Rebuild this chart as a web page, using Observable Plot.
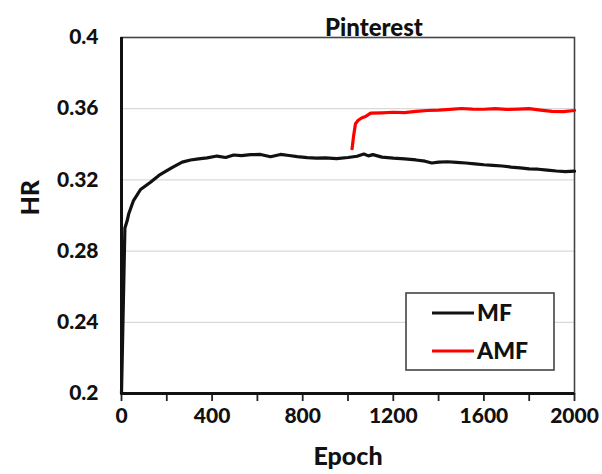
<!DOCTYPE html>
<html>
<head>
<meta charset="utf-8">
<script src="https://cdn.jsdelivr.net/npm/d3@7"></script>
<script src="https://cdn.jsdelivr.net/npm/@observablehq/plot@0.6"></script>
<style>
  html, body { margin: 0; padding: 0; background: #fff; }
  #wrap { position: relative; width: 602px; height: 474px; font-family: Lato, "Open Sans", sans-serif; }
  #legend { position: absolute; left: 405px; top: 292px; }
</style>
</head>
<body>
<div id="wrap"></div>
<script>
const title = "Pinterest";
const xLabel = "Epoch";
const yLabel = "HR";
const seriesNames = ["MF", "AMF"];
const seriesColors = ["#111111", "#ff0000"];

const yTicks = [0.2, 0.24, 0.28, 0.32, 0.36, 0.4];
const yGrid = [0.24, 0.28, 0.32, 0.36];
const xTicks = [0, 200, 400, 600, 800, 1000, 1200, 1400, 1600, 1800, 2000];
const xTickLabels = ["0", "", "400", "", "800", "", "1200", "", "1600", "", "2000"];

const mfEpoch = [0, 15, 25, 32, 53, 84, 128, 165, 202, 231, 268, 305, 340, 378, 422, 460, 495, 530, 570, 614, 658, 702, 740, 776, 820, 860, 900, 950, 1000, 1040, 1070, 1090, 1110, 1150, 1200, 1250, 1300, 1340, 1370, 1400, 1440, 1480, 1520, 1560, 1600, 1640, 1680, 1720, 1760, 1800, 1840, 1880, 1920, 1960, 2000];
const mfHR = [0.200, 0.293, 0.297, 0.301, 0.3084, 0.3146, 0.3187, 0.3225, 0.3253, 0.3275, 0.3300, 0.3312, 0.3318, 0.3324, 0.3334, 0.3326, 0.3340, 0.3336, 0.3342, 0.3343, 0.3330, 0.3343, 0.3337, 0.3331, 0.3325, 0.3322, 0.3324, 0.3320, 0.3326, 0.3333, 0.3345, 0.3335, 0.3342, 0.3328, 0.3322, 0.3318, 0.3312, 0.3305, 0.3295, 0.3300, 0.3302, 0.3298, 0.3295, 0.3290, 0.3285, 0.3282, 0.3278, 0.3272, 0.3268, 0.3262, 0.3260, 0.3255, 0.3250, 0.3247, 0.3249];

const amfEpoch = [1018, 1025, 1033, 1045, 1060, 1080, 1100, 1150, 1200, 1250, 1300, 1350, 1400, 1450, 1500, 1550, 1600, 1650, 1700, 1750, 1800, 1850, 1900, 1950, 2000];
const amfHR = [0.3375, 0.3450, 0.3515, 0.3535, 0.3548, 0.3558, 0.3575, 0.3577, 0.3580, 0.3578, 0.3585, 0.3590, 0.3592, 0.3596, 0.3601, 0.3598, 0.3597, 0.3600, 0.3596, 0.3598, 0.3600, 0.3592, 0.3585, 0.3584, 0.3590];

const data = [
  ...mfEpoch.map((e, i) => ({epoch: e, hr: mfHR[i], series: seriesNames[0]})),
  ...amfEpoch.map((e, i) => ({epoch: e, hr: amfHR[i], series: seriesNames[1]}))
];

const chart = Plot.plot({
  width: 602,
  height: 474,
  marginLeft: 121,
  marginRight: 28,
  marginTop: 37,
  marginBottom: 81,
  style: {fontFamily: "Lato, 'Open Sans', sans-serif", background: "#fff", color: "#111"},
  x: {domain: [0, 2000]},
  y: {domain: [0.2, 0.4]},
  color: {domain: seriesNames, range: seriesColors},
  marks: [
    Plot.gridY(yGrid, {stroke: "#d9d9d9", strokeOpacity: 1, strokeWidth: 1.3}),
    Plot.frame({stroke: "#444", strokeWidth: 1.6}),
    Plot.axisY(yTicks, {tickSize: 0, tickPadding: 23, label: null, fontSize: 21, fontWeight: 900,
      tickFormat: d => String(d)}),
    Plot.axisX(xTicks, {tickSize: 8, tickPadding: 7, label: null, fontSize: 21, fontWeight: 900,
      stroke: "#222", strokeWidth: 1.8,
      tickFormat: (d, i) => xTickLabels[xTicks.indexOf(d)]}),
    Plot.line(data, {x: "epoch", y: "hr", z: "series", stroke: "series", strokeWidth: 3.2, strokeLinejoin: "round"}),
    Plot.ruleX([0], {stroke: "#111", strokeWidth: 3}),
    Plot.ruleY([0.2], {stroke: "#111", strokeWidth: 3}),
    Plot.text([title], {frameAnchor: "top", dx: 26, dy: -19, fontSize: 24, fontWeight: 900, fill: "#111"}),
    Plot.text([xLabel], {frameAnchor: "bottom", dy: 71, fontSize: 25, fontWeight: 900, fill: "#111"}),
    Plot.text([yLabel], {frameAnchor: "left", dx: -91, rotate: -90, fontSize: 25, fontWeight: 900, fill: "#111"})
  ]
});

const wrap = document.getElementById("wrap");
wrap.appendChild(chart);

// Legend (inline SVG overlay)
const lg = d3.create("svg").attr("id", "legend").attr("width", 152).attr("height", 81)
  .style("font-family", "Lato, 'Open Sans', sans-serif");
lg.append("rect").attr("x", 1).attr("y", 1).attr("width", 148).attr("height", 77)
  .attr("fill", "#fff").attr("stroke", "#444").attr("stroke-width", 1.6);
seriesNames.forEach((name, i) => {
  const cy = 21 + i * 38;
  lg.append("line").attr("x1", 27).attr("x2", 69).attr("y1", cy).attr("y2", cy)
    .attr("stroke", seriesColors[i]).attr("stroke-width", 3.2);
  lg.append("text").attr("x", 72).attr("y", cy).attr("dy", "0.36em")
    .attr("font-size", 23).attr("font-weight", 900).attr("fill", "#111").text(name);
});
wrap.appendChild(lg.node());
</script>
</body>
</html>
